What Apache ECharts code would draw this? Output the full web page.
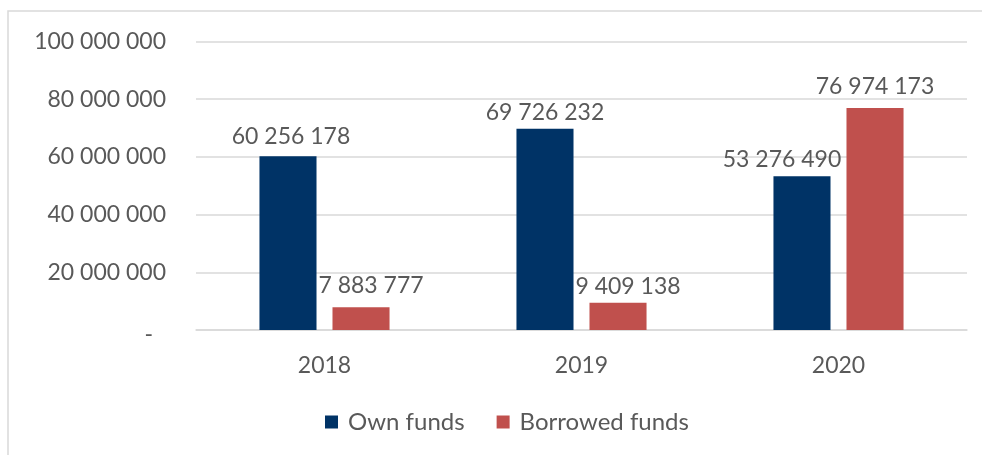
<!DOCTYPE html>
<html>
<head>
<meta charset="utf-8">
<script src="https://cdn.jsdelivr.net/npm/echarts@6/dist/echarts.min.js"></script>
<style>
html,body{margin:0;padding:0;background:#fff;}
#chart{width:982px;height:455px;}
</style>
</head>
<body>
<div id="chart"></div>
<script>
var categories = ['2018', '2019', '2020'];
var ownFunds = [60256178, 69726232, 53276490];
var borrowedFunds = [7883777, 9409138, 76974173];
var seriesNames = ['Own funds', 'Borrowed funds'];
var yTicks = [0, 20000000, 40000000, 60000000, 80000000, 100000000];

function fmt(v) {
  return String(v).replace(/\B(?=(\d{3})+(?!\d))/g, ' ');
}

var FONT = 'Lato';
var TEXT = '#595959';

// label nudges (style only)
var ownOffsets = [[3, -3], [0, 0], [-20, 0]];
var borOffsets = [[10, -5], [10, 0], [0, -5]];

function build(values, offsets) {
  return values.map(function (v, i) {
    return { value: v, label: { offset: offsets[i] } };
  });
}

var chart = echarts.init(document.getElementById('chart'));
chart.setOption({
  animation: false,
  backgroundColor: '#ffffff',
  textStyle: { fontFamily: FONT, color: TEXT },
  graphic: [{
    type: 'rect',
    shape: { x: 8, y: 11, width: 1100, height: 600 },
    style: { fill: 'none', stroke: '#d9d9d9', lineWidth: 1.5 },
    silent: true
  }],
  grid: { left: 196, right: 15, top: 41.5, bottom: 125, containLabel: false },
  legend: {
    data: seriesNames,
    bottom: 16,
    left: 320,
    itemWidth: 13,
    itemHeight: 13,
    itemGap: 32,
    icon: 'rect',
    textStyle: { fontFamily: FONT, fontSize: 24, color: TEXT, padding: [0, 0, 0, 5] }
  },
  xAxis: {
    type: 'category',
    data: categories,
    axisLine: { lineStyle: { color: '#d9d9d9', width: 1.5 } },
    axisTick: { show: false },
    axisLabel: { fontFamily: FONT, fontSize: 23, color: TEXT, margin: 24 }
  },
  yAxis: {
    type: 'value',
    min: yTicks[0],
    max: yTicks[yTicks.length - 1],
    interval: yTicks[1] - yTicks[0],
    axisLine: { show: false },
    axisTick: { show: false },
    splitLine: { lineStyle: { color: '#d9d9d9', width: 1.5 } },
    axisLabel: {
      fontFamily: FONT, fontSize: 23, color: TEXT, margin: 30,
      formatter: function (v) { return v === 0 ? '{z|-}' : fmt(v); },
      rich: { z: { fontFamily: FONT, fontSize: 23, color: TEXT, padding: [10, 13, 0, 0] } }
    }
  },
  series: [{
    name: seriesNames[0],
    type: 'bar',
    data: build(ownFunds, ownOffsets),
    barWidth: '22.2%',
    barGap: '28%',
    itemStyle: { color: '#003366' },
    label: {
      show: true, position: 'top', distance: 5,
      fontFamily: FONT, fontSize: 23, color: TEXT,
      formatter: function (p) { return fmt(p.value); }
    }
  }, {
    name: seriesNames[1],
    type: 'bar',
    data: build(borrowedFunds, borOffsets),
    barWidth: '22.2%',
    barGap: '28%',
    itemStyle: { color: '#C0504D' },
    label: {
      show: true, position: 'top', distance: 5,
      fontFamily: FONT, fontSize: 23, color: TEXT,
      formatter: function (p) { return fmt(p.value); }
    }
  }]
});
</script>
</body>
</html>
